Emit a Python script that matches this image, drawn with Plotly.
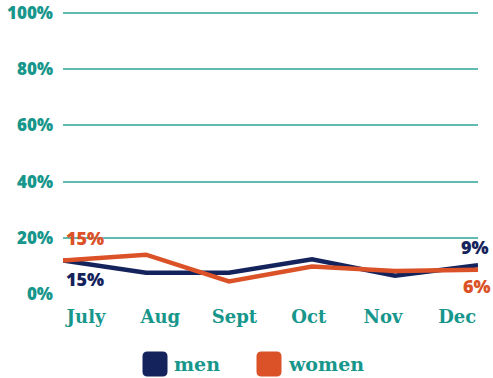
import plotly.graph_objects as go

months = ["July", "Aug", "Sept", "Oct", "Nov", "Dec"]
men = [11.9, 7.6, 7.6, 12.4, 6.5, 10.2]
women = [11.9, 14.0, 4.5, 9.8, 8.2, 8.6]
y_ticks = [0, 20, 40, 60, 80, 100]
y_tick_text = ["0%", "20%", "40%", "60%", "80%", "100%"]

NAVY = "#15235c"
ORANGE = "#db5228"
TEAL = "#17968b"
GRID = "#62bbb3"
SANS = "Open Sans"
SLAB = "DejaVu Serif"

fig = go.Figure()
fig.add_trace(go.Scatter(x=months, y=men, mode="lines", name="men",
                         line=dict(color=NAVY, width=4.5), xaxis="x", yaxis="y"))
fig.add_trace(go.Scatter(x=months, y=women, mode="lines", name="women",
                         line=dict(color=ORANGE, width=4.5), xaxis="x", yaxis="y"))
# invisible trace to carry the month labels on the second x-axis
fig.add_trace(go.Scatter(x=months, y=[None]*len(months), mode="lines",
                         showlegend=False, xaxis="x2", yaxis="y", hoverinfo="skip"))

fig.update_layout(
    width=493, height=378,
    margin=dict(l=63, r=15, t=12, b=84),
    paper_bgcolor="white", plot_bgcolor="white",
    showlegend=False,
    xaxis=dict(type="category", range=[0, 5], showgrid=False, showticklabels=False,
               zeroline=False, showline=False, ticks="", automargin=False),
    xaxis2=dict(type="category", overlaying="x", anchor="y", side="bottom",
                range=[-0.31, 5.28], showgrid=False, zeroline=False, showline=False,
                ticks="", automargin=False,
                tickfont=dict(family=SLAB, size=18, color=TEAL, weight="bold"),
                ticklabelstandoff=10),
    yaxis=dict(range=[0, 100.4], tickvals=y_ticks, ticktext=y_tick_text,
               showgrid=True, gridcolor=GRID, gridwidth=1.5, zeroline=False,
               showline=False, ticks="", ticklabelstandoff=9, automargin=False,
               ticklabeloverflow="allow",
               tickfont=dict(family=SANS, size=17, color=TEAL, weight=800)),
)

lab_font = dict(family=SANS, size=18, weight=800)
anns = [
    dict(x=0, y=20, text="15%", color=ORANGE, xanchor="left", xshift=1),
    dict(x=0, y=5.4, text="15%", color=NAVY, xanchor="left", xshift=1),
    dict(x=5, y=16.8, text="9%", color=NAVY, xanchor="right", xshift=13),
    dict(x=5, y=2.7, text="6%", color=ORANGE, xanchor="right", xshift=15),
]
for a in anns:
    fig.add_annotation(x=a["x"], y=a["y"], xref="x", yref="y", text=a["text"],
                       showarrow=False, xanchor=a["xanchor"], yanchor="middle",
                       xshift=a["xshift"], font=dict(color=a["color"], **lab_font))

# custom legend: rounded squares + labels
def rounded_square(size=25, r=5):
    s = size / 2
    return (f"M {-s+r},{-s} L {s-r},{-s} Q {s},{-s} {s},{-s+r} L {s},{s-r} "
            f"Q {s},{s} {s-r},{s} L {-s+r},{s} Q {-s},{s} {-s},{s-r} "
            f"L {-s},{-s+r} Q {-s},{-s} {-s+r},{-s} Z")

legend_items = [("men", NAVY, 155), ("women", ORANGE, 269)]
plot_w, plot_h, left, bottom_px = 415, 282, 63, 294
leg_y_px = 364
for name, col, cx in legend_items:
    xp = (cx - left) / plot_w
    yp = -(leg_y_px - bottom_px) / plot_h
    fig.add_shape(type="path", xref="paper", yref="paper",
                  xsizemode="pixel", ysizemode="pixel", xanchor=xp, yanchor=yp,
                  path=rounded_square(), fillcolor=col, line=dict(width=0))
    fig.add_annotation(x=(cx + 17 - left) / plot_w, y=yp, xref="paper", yref="paper",
                       text=name, showarrow=False, xanchor="left", yanchor="middle",
                       font=dict(family=SLAB, size=19, color=TEAL, weight="bold"))

fig.write_html("out.html", config={"displayModeBar": False},
               post_script="document.body.style.margin='0';")
